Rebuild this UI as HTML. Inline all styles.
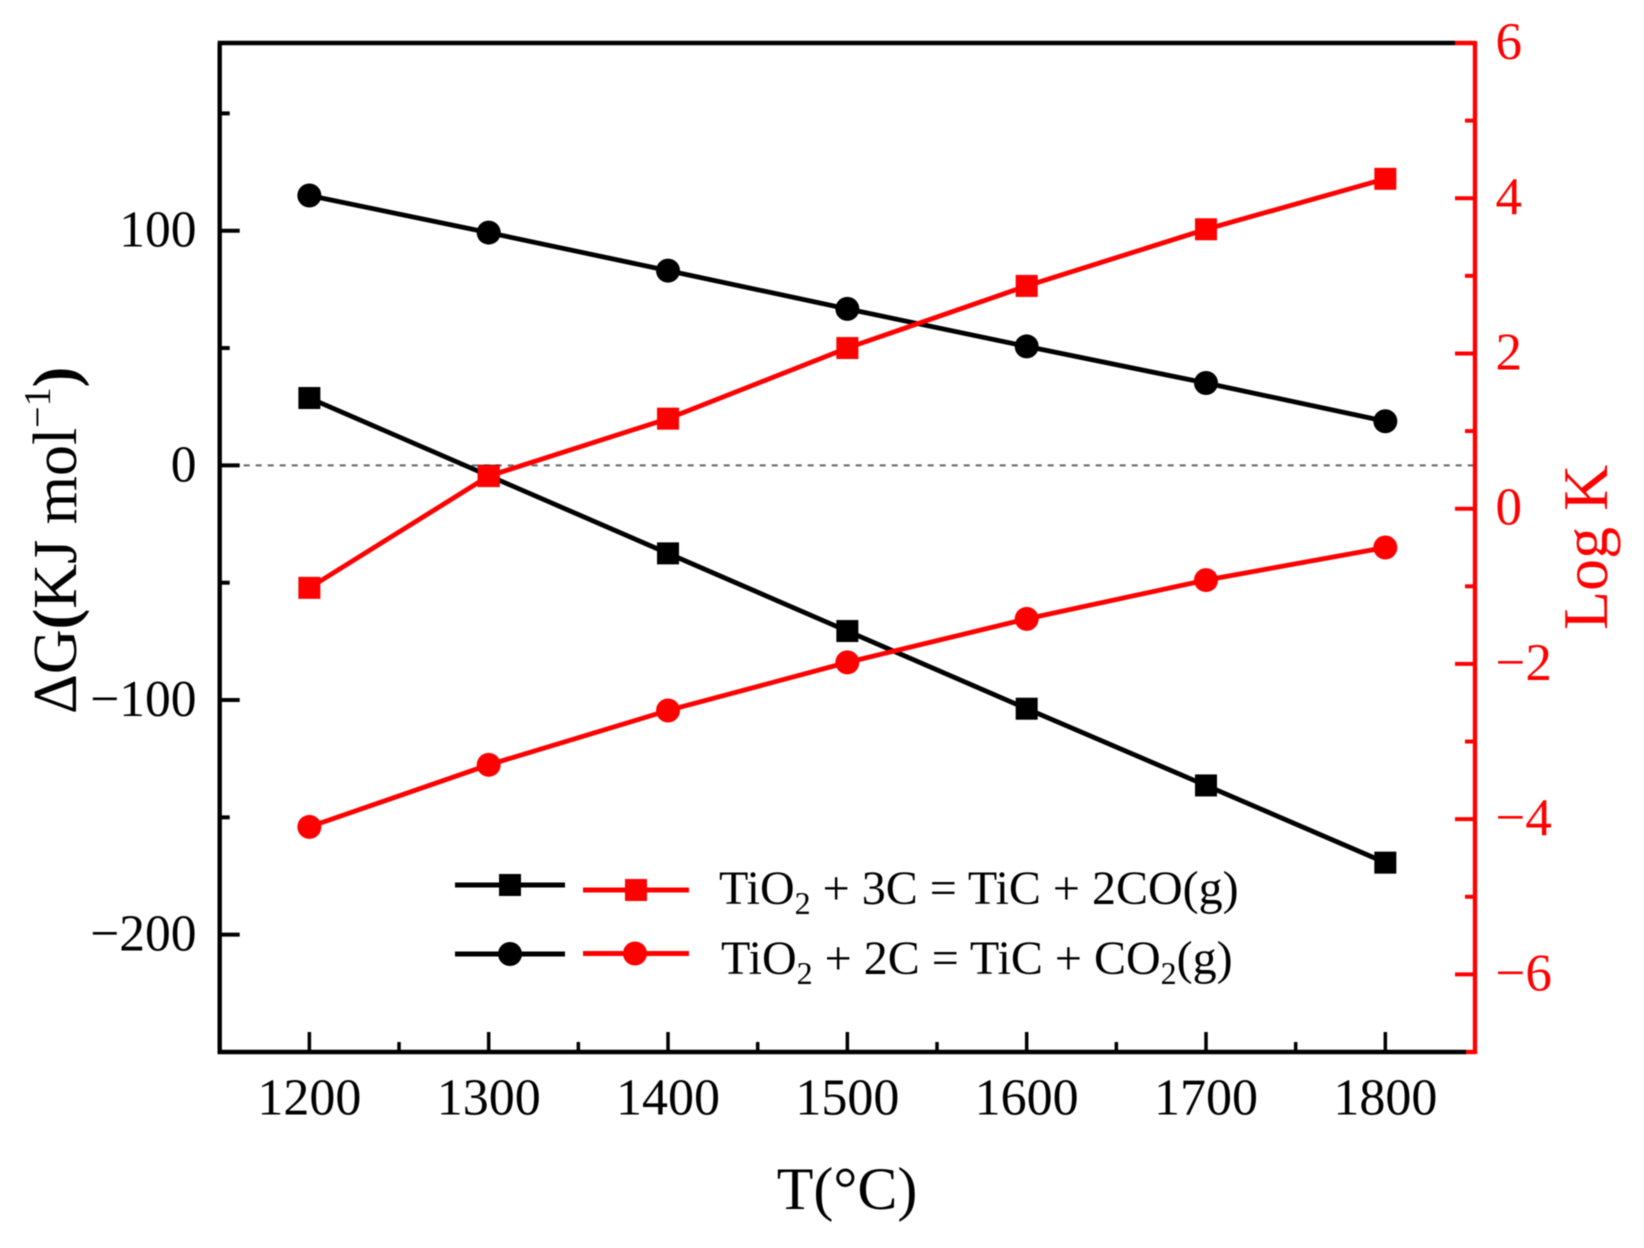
<!DOCTYPE html>
<html lang="en">
<head>
<meta charset="utf-8">
<title>Delta G and Log K versus temperature</title>
<style>
html,body{margin:0;padding:0;background:#fff;width:1644px;height:1248px;overflow:hidden}
svg{display:block;filter:blur(0.6px)}
text{font-family:"Liberation Serif",serif}
</style>
</head>
<body>
<svg id="chart" xmlns="http://www.w3.org/2000/svg" width="1644" height="1248" viewBox="0 0 1644 1248">
<rect x="0" y="0" width="1644" height="1248" fill="#fff"/>
<g id="grid"></g>
<g id="series"></g>
<g id="axes"></g>
<text x="847" y="1209" font-size="60" text-anchor="middle" fill="#000">T(°C)</text>
<text transform="translate(76,714) rotate(-90)" font-size="62" fill="#000">ΔG<tspan font-weight="bold">(</tspan>KJ mol<tspan font-size="38" dy="-26">−1</tspan><tspan dy="26" font-weight="bold">)</tspan></text>
<text transform="translate(1607,630) rotate(-90)" font-size="64" fill="#f00">Log K</text>
<g>
<line x1="455" y1="885" x2="565" y2="885" stroke="#000" stroke-width="5"/>
<rect x="499" y="874" width="22" height="22" fill="#000"/>
<line x1="583" y1="890" x2="689" y2="890" stroke="#f00" stroke-width="5"/>
<rect x="625" y="879" width="22" height="22" fill="#f00"/>
<text x="719" y="904" font-size="48" fill="#000">TiO<tspan font-size="32" dy="10">2</tspan><tspan dy="-10"> + 3C = TiC + 2CO(g)</tspan></text>
<line x1="455" y1="954" x2="565" y2="954" stroke="#000" stroke-width="5"/>
<circle cx="510" cy="954" r="12" fill="#000"/>
<line x1="583" y1="953.5" x2="689" y2="953.5" stroke="#f00" stroke-width="5"/>
<circle cx="635" cy="953.5" r="12" fill="#f00"/>
<text x="721" y="974" font-size="48" fill="#000">TiO<tspan font-size="32" dy="10">2</tspan><tspan dy="-10"> + 2C = TiC + CO</tspan><tspan font-size="32" dy="10">2</tspan><tspan dy="-10">(g)</tspan></text>
</g>
</svg>
<script>
const temperatures = [1200, 1300, 1400, 1500, 1600, 1700, 1800];
const deltaGSquare = [28.7, -4.4, -37.5, -70.6, -103.7, -136.4, -169.3];
const deltaGCircle = [115, 99.2, 83, 66.7, 50.7, 35.1, 18.8];
const logKSquare = [-1.02, 0.42, 1.16, 2.07, 2.87, 3.6, 4.25];
const logKCircle = [-4.1, -3.3, -2.6, -1.98, -1.42, -0.92, -0.5];
const xMajorTicks = [1200, 1300, 1400, 1500, 1600, 1700, 1800];
const xMinorTicks = [1250, 1350, 1450, 1550, 1650, 1750];
const leftMajorTicks = [100, 0, -100, -200];
const leftMinorTicks = [150, 50, -50, -150];
const rightMajorTicks = [6, 4, 2, 0, -2, -4, -6];
const rightMinorTicks = [5, 3, 1, -1, -3, -5];
const xDomain = [1150, 1850];
const leftDomain = [-250, 180];
const rightDomain = [-7, 6];

const plotLeft = 219.7, plotRight = 1475, plotTop = 43, plotBottom = 1052;
const RED = '#f00', BLACK = '#000';
const NS = 'http://www.w3.org/2000/svg';
const xScale = v => plotLeft + (v - xDomain[0]) / (xDomain[1] - xDomain[0]) * (plotRight - plotLeft);
const leftScale = v => plotBottom - (v - leftDomain[0]) / (leftDomain[1] - leftDomain[0]) * (plotBottom - plotTop);
const rightScale = v => plotBottom - (v - rightDomain[0]) / (rightDomain[1] - rightDomain[0]) * (plotBottom - plotTop);
const label = v => String(v).replace('-', '\u2212');

function make(tag, attrs, parent) {
  const el = document.createElementNS(NS, tag);
  for (const k in attrs) el.setAttribute(k, attrs[k]);
  parent.appendChild(el);
  return el;
}

const gridLayer = document.getElementById('grid');
const seriesLayer = document.getElementById('series');
const axesLayer = document.getElementById('axes');

const zeroLine = make('line', {x1: plotLeft, y1: leftScale(0), x2: plotRight, y2: leftScale(0), stroke: '#666', 'stroke-width': 2, 'stroke-dasharray': '6 6'}, gridLayer);



function drawSeries(name, values, scale, color, shape) {
  const pts = temperatures.map((t, i) => xScale(t) + ',' + scale(values[i])).join(' ');
  const line = make('polyline', {points: pts, fill: 'none', stroke: color, 'stroke-width': 4.8, 'stroke-linejoin': 'round'}, seriesLayer);
  
  
  temperatures.forEach((t, i) => {
    const cx = xScale(t), cy = scale(values[i]);
    const mark = shape === 'square'
      ? make('rect', {x: cx - 11, y: cy - 11, width: 22, height: 22, fill: color}, seriesLayer)
      : make('circle', {cx: cx, cy: cy, r: 12, fill: color}, seriesLayer);
    
    
  });
}
drawSeries('delta-g-square', deltaGSquare, leftScale, BLACK, 'square');
drawSeries('delta-g-circle', deltaGCircle, leftScale, BLACK, 'circle');
drawSeries('log-k-circle', logKCircle, rightScale, RED, 'circle');
drawSeries('log-k-square', logKSquare, rightScale, RED, 'square');

const spines = [
  ['top-axis-line', plotLeft - 2, plotTop, 1455, plotTop, BLACK],
  ['bottom-axis-line', plotLeft - 2, plotBottom, 1466, plotBottom, BLACK],
  ['left-axis-line', plotLeft, plotTop, plotLeft, plotBottom + 2, BLACK],
  ['right-axis-line', plotRight, plotTop - 2, plotRight, plotBottom + 2, RED],
  ['right-axis-top-cap', 1455, plotTop, plotRight, plotTop, RED],
  ['right-axis-bottom-cap', 1466, plotBottom, plotRight, plotBottom, RED]
];
spines.forEach(s => {
  const el = make('line', {x1: s[1], y1: s[2], x2: s[3], y2: s[4], stroke: s[5], 'stroke-width': 4.4}, axesLayer);
  
  
});

xMajorTicks.forEach(v => {
  const x = xScale(v);
  const tick = make('line', {x1: x, y1: plotBottom, x2: x, y2: plotBottom - 20, stroke: BLACK, 'stroke-width': 3.5}, axesLayer);
  
  
  const txt = make('text', {x: x, y: 1114.5, 'font-size': 52, 'text-anchor': 'middle', fill: BLACK}, axesLayer);
  txt.textContent = label(v);
  
  
});
xMinorTicks.forEach(v => {
  const x = xScale(v);
  const tick = make('line', {x1: x, y1: plotBottom, x2: x, y2: plotBottom - 10, stroke: BLACK, 'stroke-width': 3.5}, axesLayer);
  
  
});
leftMajorTicks.forEach(v => {
  const y = leftScale(v);
  const tick = make('line', {x1: plotLeft, y1: y, x2: plotLeft + 20, y2: y, stroke: BLACK, 'stroke-width': 4}, axesLayer);
  
  
  const txt = make('text', {x: 196.5, y: y + 16, 'font-size': 51.5, 'text-anchor': 'end', fill: BLACK}, axesLayer);
  txt.textContent = label(v);
  
  
});
leftMinorTicks.forEach(v => {
  const y = leftScale(v);
  const tick = make('line', {x1: plotLeft, y1: y, x2: plotLeft + 10, y2: y, stroke: BLACK, 'stroke-width': 4}, axesLayer);
  
  
});
rightMajorTicks.forEach(v => {
  const y = rightScale(v);
  const tick = make('line', {x1: plotRight, y1: y, x2: plotRight - 20, y2: y, stroke: RED, 'stroke-width': 4}, axesLayer);
  
  
  const txt = make('text', {x: 1495.5, y: y + 16, 'font-size': 53, fill: RED}, axesLayer);
  txt.textContent = label(v);
  
  
});
rightMinorTicks.forEach(v => {
  const y = rightScale(v);
  const tick = make('line', {x1: plotRight, y1: y, x2: plotRight - 10, y2: y, stroke: RED, 'stroke-width': 4}, axesLayer);
  
  
});
</script>
</body>
</html>
